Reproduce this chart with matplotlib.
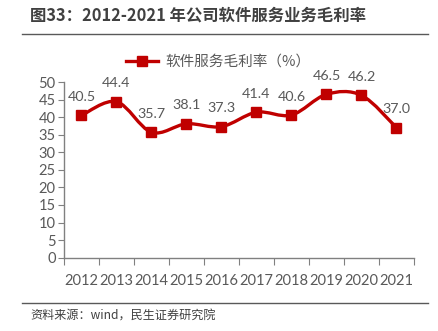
import matplotlib
matplotlib.use("Agg")
import matplotlib.pyplot as plt
from matplotlib.path import Path
from matplotlib.patches import PathPatch
from matplotlib.lines import Line2D
import numpy as np

plt.rcParams['font.family'] = ['Noto Sans CJK SC', 'DejaVu Sans']

years = ["2012", "2013", "2014", "2015", "2016", "2017", "2018", "2019", "2020", "2021"]
margin = [40.5, 44.4, 35.7, 38.1, 37.3, 41.4, 40.6, 46.5, 46.2, 37.0]
yticks = [0, 5, 10, 15, 20, 25, 30, 35, 40, 45, 50]

title = "图33：2012-2021 年公司软件服务业务毛利率"
series_name = "软件服务毛利率（%）"
source = "资料来源：wind，民生证券研究院"

red = "#C00000"
gray = "#595959"
num_font = ["Lato", "DejaVu Sans"]

fig = plt.figure(figsize=(4.39, 3.31), dpi=100)
ax = fig.add_axes([64 / 439, 1 - 257.7 / 331, 350 / 439, (257.7 - 82) / 331])

x = np.arange(len(years)) + 0.5
y = np.array(margin)

# smooth curve through the points (Catmull-Rom -> cubic Bezier segments)
verts = [(x[0], y[0])]
codes = [Path.MOVETO]
n = len(x)
for i in range(n - 1):
    p0 = np.array([x[max(i - 1, 0)], y[max(i - 1, 0)]])
    p1 = np.array([x[i], y[i]])
    p2 = np.array([x[i + 1], y[i + 1]])
    p3 = np.array([x[min(i + 2, n - 1)], y[min(i + 2, n - 1)]])
    c1 = p1 + (p2 - p0) / 6.0
    c2 = p2 - (p3 - p1) / 6.0
    verts += [tuple(c1), tuple(c2), tuple(p2)]
    codes += [Path.CURVE4] * 3
ax.add_patch(PathPatch(Path(verts, codes), facecolor="none", edgecolor=red,
                       linewidth=2.4, capstyle="round", joinstyle="round", zorder=3))
ax.plot(x, y, linestyle="none", marker="s", markersize=7, color=red, zorder=4)

for xi, yi in zip(x, margin):
    ax.annotate(f"{yi:.1f}", (xi, yi), xytext=(0, 9), textcoords="offset points",
                ha="center", va="bottom", fontsize=10.3, color=gray, family=num_font)

ax.set_xlim(0, len(years))
ax.set_ylim(0, 50)
ax.set_yticks(yticks)
ax.set_yticklabels([str(v) for v in yticks], family=num_font, fontsize=10.5, color=gray)
ax.set_xticks(np.arange(len(years) + 1))
ax.set_xticklabels([])
ax.set_xticks(x, minor=True)
ax.set_xticklabels(years, minor=True, family=num_font, fontsize=10.5, color=gray)
ax.tick_params(axis="x", which="major", length=5, color="#808080", direction="out")
ax.tick_params(axis="x", which="minor", length=0, pad=12)
ax.tick_params(axis="y", length=4, color="#808080", direction="out", pad=2)
for s in ["top", "right"]:
    ax.spines[s].set_visible(False)
for s in ["left", "bottom"]:
    ax.spines[s].set_color("#808080")
    ax.spines[s].set_linewidth(1.0)

handle = Line2D([], [], color=red, linewidth=2.4, marker="s", markersize=7)
fig.legend([handle], [series_name], loc="center", bbox_to_anchor=(218 / 439, 1 - 62 / 331),
           frameon=False, fontsize=10.5, labelcolor=gray, handlelength=2.2,
           handletextpad=0.5)

fig.text(30 / 439, 1 - 16 / 331, title, fontsize=11.8, fontweight="bold",
         color="#404040", ha="left", va="center")
fig.add_artist(Line2D([22 / 439, 428 / 439], [1 - 34 / 331] * 2, color=gray, linewidth=1.0))
fig.add_artist(Line2D([22 / 439, 428 / 439], [1 - 302.5 / 331] * 2, color=gray, linewidth=1.0))
fig.text(30 / 439, 1 - 316 / 331, source, fontsize=8.7, color="#404040",
         ha="left", va="center")

fig.savefig("out.png", dpi=100)
